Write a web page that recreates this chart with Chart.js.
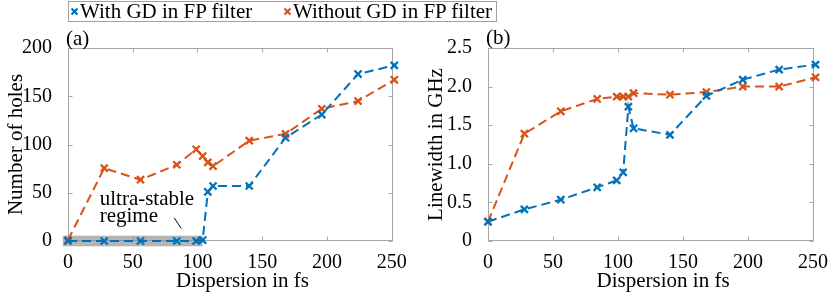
<!DOCTYPE html>
<html><head><meta charset="utf-8">
<script src="https://cdn.jsdelivr.net/npm/chart.js@4"></script>
<style>
html,body{margin:0;padding:0;background:#fff;}
#wrap{position:relative;width:830px;height:296px;overflow:hidden;font-family:'Liberation Serif','Times New Roman',serif;color:#000;}
canvas{position:absolute;top:0;}
#legend{position:absolute;left:68px;top:1px;width:427px;height:19px;border:1px solid #a0a0a0;background:#fff;font-size:21px;line-height:19px;z-index:2;}
.item{position:absolute;top:0;white-space:nowrap;}
.item svg{position:absolute;top:5px;}
.item span{position:absolute;left:10px;top:0;}
.panel{position:absolute;font-size:21px;line-height:22px;}
</style></head>
<body>
<div id="wrap">
  <canvas id="c1" width="415" height="296" style="left:0;width:415px;height:296px"></canvas>
  <canvas id="c2" width="415" height="296" style="left:415px;width:415px;height:296px"></canvas>
  <div id="legend">
    <div class="item" style="left:1px"><svg width="9" height="9"><path d="M1.5 1.5L7.5 7.5M7.5 1.5L1.5 7.5" stroke="#0072BD" stroke-width="2.2"/></svg><span>With GD in FP filter</span></div>
    <div class="item" style="left:214px"><svg width="9" height="9"><path d="M1.5 1.5L7.5 7.5M7.5 1.5L1.5 7.5" stroke="#D95319" stroke-width="2.2"/></svg><span>Without GD in FP filter</span></div>
  </div>
  <div class="panel" style="left:66px;top:27px">(a)</div>
  <div class="panel" style="left:486px;top:26px">(b)</div>
</div>
<script>
// ---- data ----
const dispersion = [0, 28, 56, 84, 99, 104, 108, 112, 140, 168, 196, 224, 252];
const holesWithGD    = [0, 0, 0, 0, 0, 1, 51, 57, 57, 107, 131, 173, 182];
const holesWithoutGD = [1, 75.5, 63.5, 79, 95, 88, 81.5, 77.5, 104, 111, 137, 145, 167];
const lwWithGD    = [0.25, 0.41, 0.535, 0.695, 0.785, 0.89, 1.74, 1.46, 1.375, 1.88, 2.09, 2.22, 2.285];
const lwWithoutGD = [0.25, 1.39, 1.68, 1.84, 1.87, 1.87, 1.87, 1.915, 1.895, 1.93, 2.0, 2.0, 2.12];
const xTicks = [0, 50, 100, 150, 200, 250];
const holesTicks = [0, 50, 100, 150, 200];
const lwTicks = [0, 0.5, 1, 1.5, 2, 2.5];
const regimeX = [-4, 104];
const regimeY = [-5.5, 5.5];

const BLUE = '#0072BD', ORANGE = '#D95319', AXIS = '#a6a6a6';
const FONT = "'Liberation Serif','Times New Roman',serif";
const X_TITLE = 'Dispersion in fs';

const pts = (xs, ys) => xs.map((x, i) => ({x, y: ys[i]}));

const frame = {
  id: 'frame',
  beforeDatasetsDraw(chart) {
    const {ctx, chartArea: a, scales: {x, y}} = chart;
    ctx.save();
    ctx.strokeStyle = AXIS; ctx.lineWidth = 1;
    const L = Math.round(a.left) + 0.5, R = Math.round(a.right) - 0.5, T = Math.round(a.top) + 0.5, B = Math.round(a.bottom) - 0.5;
    ctx.strokeRect(L, T, R - L, B - T);
    ctx.beginPath();
    x.ticks.forEach(t => {
      const p = Math.round(x.getPixelForValue(t.value)) + 0.5;
      ctx.moveTo(p, B); ctx.lineTo(p, B - 4);
      ctx.moveTo(p, T); ctx.lineTo(p, T + 4);
    });
    y.ticks.forEach(t => {
      const p = Math.round(y.getPixelForValue(t.value)) + 0.5;
      ctx.moveTo(L, p); ctx.lineTo(L + 4, p);
      ctx.moveTo(R, p); ctx.lineTo(R - 4, p);
    });
    ctx.stroke();
    // x-axis title (slightly right of centre, as in the reference)
    ctx.fillStyle = '#000';
    ctx.font = '21px ' + FONT;
    ctx.textAlign = 'center';
    ctx.textBaseline = 'alphabetic';
    ctx.fillText(X_TITLE, (x.left + x.right) / 2 + 12, 287);
    const reg = chart.options.plugins.frame && chart.options.plugins.frame.regime;
    if (reg) {
      const x0 = x.getPixelForValue(regimeX[0]), x1 = x.getPixelForValue(regimeX[1]);
      const y0 = y.getPixelForValue(regimeY[1]), y1 = y.getPixelForValue(regimeY[0]);
      ctx.fillStyle = 'rgba(140,140,140,0.65)';
      ctx.fillRect(x0, y0, x1 - x0, y1 - y0);
      ctx.fillStyle = '#000';
      ctx.textAlign = 'left';
      ctx.fillText('ultra-stable', x.getPixelForValue(24.5), y.getPixelForValue(37));
      ctx.fillText('regime', x.getPixelForValue(24.5), y.getPixelForValue(19.5));
      ctx.strokeStyle = '#000'; ctx.lineWidth = 1;
      ctx.beginPath();
      ctx.moveTo(x.getPixelForValue(82), y.getPixelForValue(24));
      ctx.lineTo(x.getPixelForValue(87.5), y.getPixelForValue(13));
      ctx.stroke();
    }
    ctx.restore();
  }
};

function ds(label, data, color) {
  return {
    label, data, borderColor: color, backgroundColor: color,
    borderWidth: 2, borderDash: [9, 5], pointStyle: 'crossRot',
    pointRadius: 5, pointBorderWidth: 2.3, pointHoverRadius: 5,
    pointBorderColor: color, fill: false, tension: 0, clip: false
  };
}

function makeChart(id, blue, orange, yMax, yTicks, yTitle, yWidth, rightPad, titlePad, regime) {
  new Chart(document.getElementById(id), {
    type: 'line',
    data: { datasets: [ds('With GD in FP filter', pts(dispersion, blue), BLUE),
                       ds('Without GD in FP filter', pts(dispersion, orange), ORANGE)] },
    options: {
      responsive: false, animation: false, events: [],
      layout: { padding: { top: 48, right: rightPad, left: 0, bottom: 0 } },
      plugins: { legend: { display: false }, tooltip: { enabled: false }, frame: { regime } },
      scales: {
        x: {
          type: 'linear', min: 0, max: 251,
          afterBuildTicks: s => { s.ticks = xTicks.map(v => ({value: v})); },
          ticks: { font: { family: FONT, size: 20 }, color: '#000', padding: 2, maxRotation: 0, includeBounds: false },
          grid: { display: false }, border: { display: false },
          title: { display: false },
          afterFit: s => { s.height = 55; }
        },
        y: {
          type: 'linear', min: 0, max: yMax,
          afterBuildTicks: s => { s.ticks = yTicks.map(v => ({value: v})); },
          ticks: { font: { family: FONT, size: 20 }, color: '#000', padding: 8 },
          grid: { display: false }, border: { display: false },
          title: { display: true, text: yTitle, font: { family: FONT, size: 21 }, color: '#000', padding: { top: titlePad, bottom: 0 } },
          afterFit: s => { s.width = yWidth; }
        }
      }
    },
    plugins: [frame]
  });
}

makeChart('c1', holesWithGD, holesWithoutGD, 200, holesTicks, 'Number of holes', 68, 22, 4, true);
makeChart('c2', lwWithGD, lwWithoutGD, 2.5, lwTicks, 'Linewidth in GHz', 73, 15, 9, false);
</script>
</body></html>
